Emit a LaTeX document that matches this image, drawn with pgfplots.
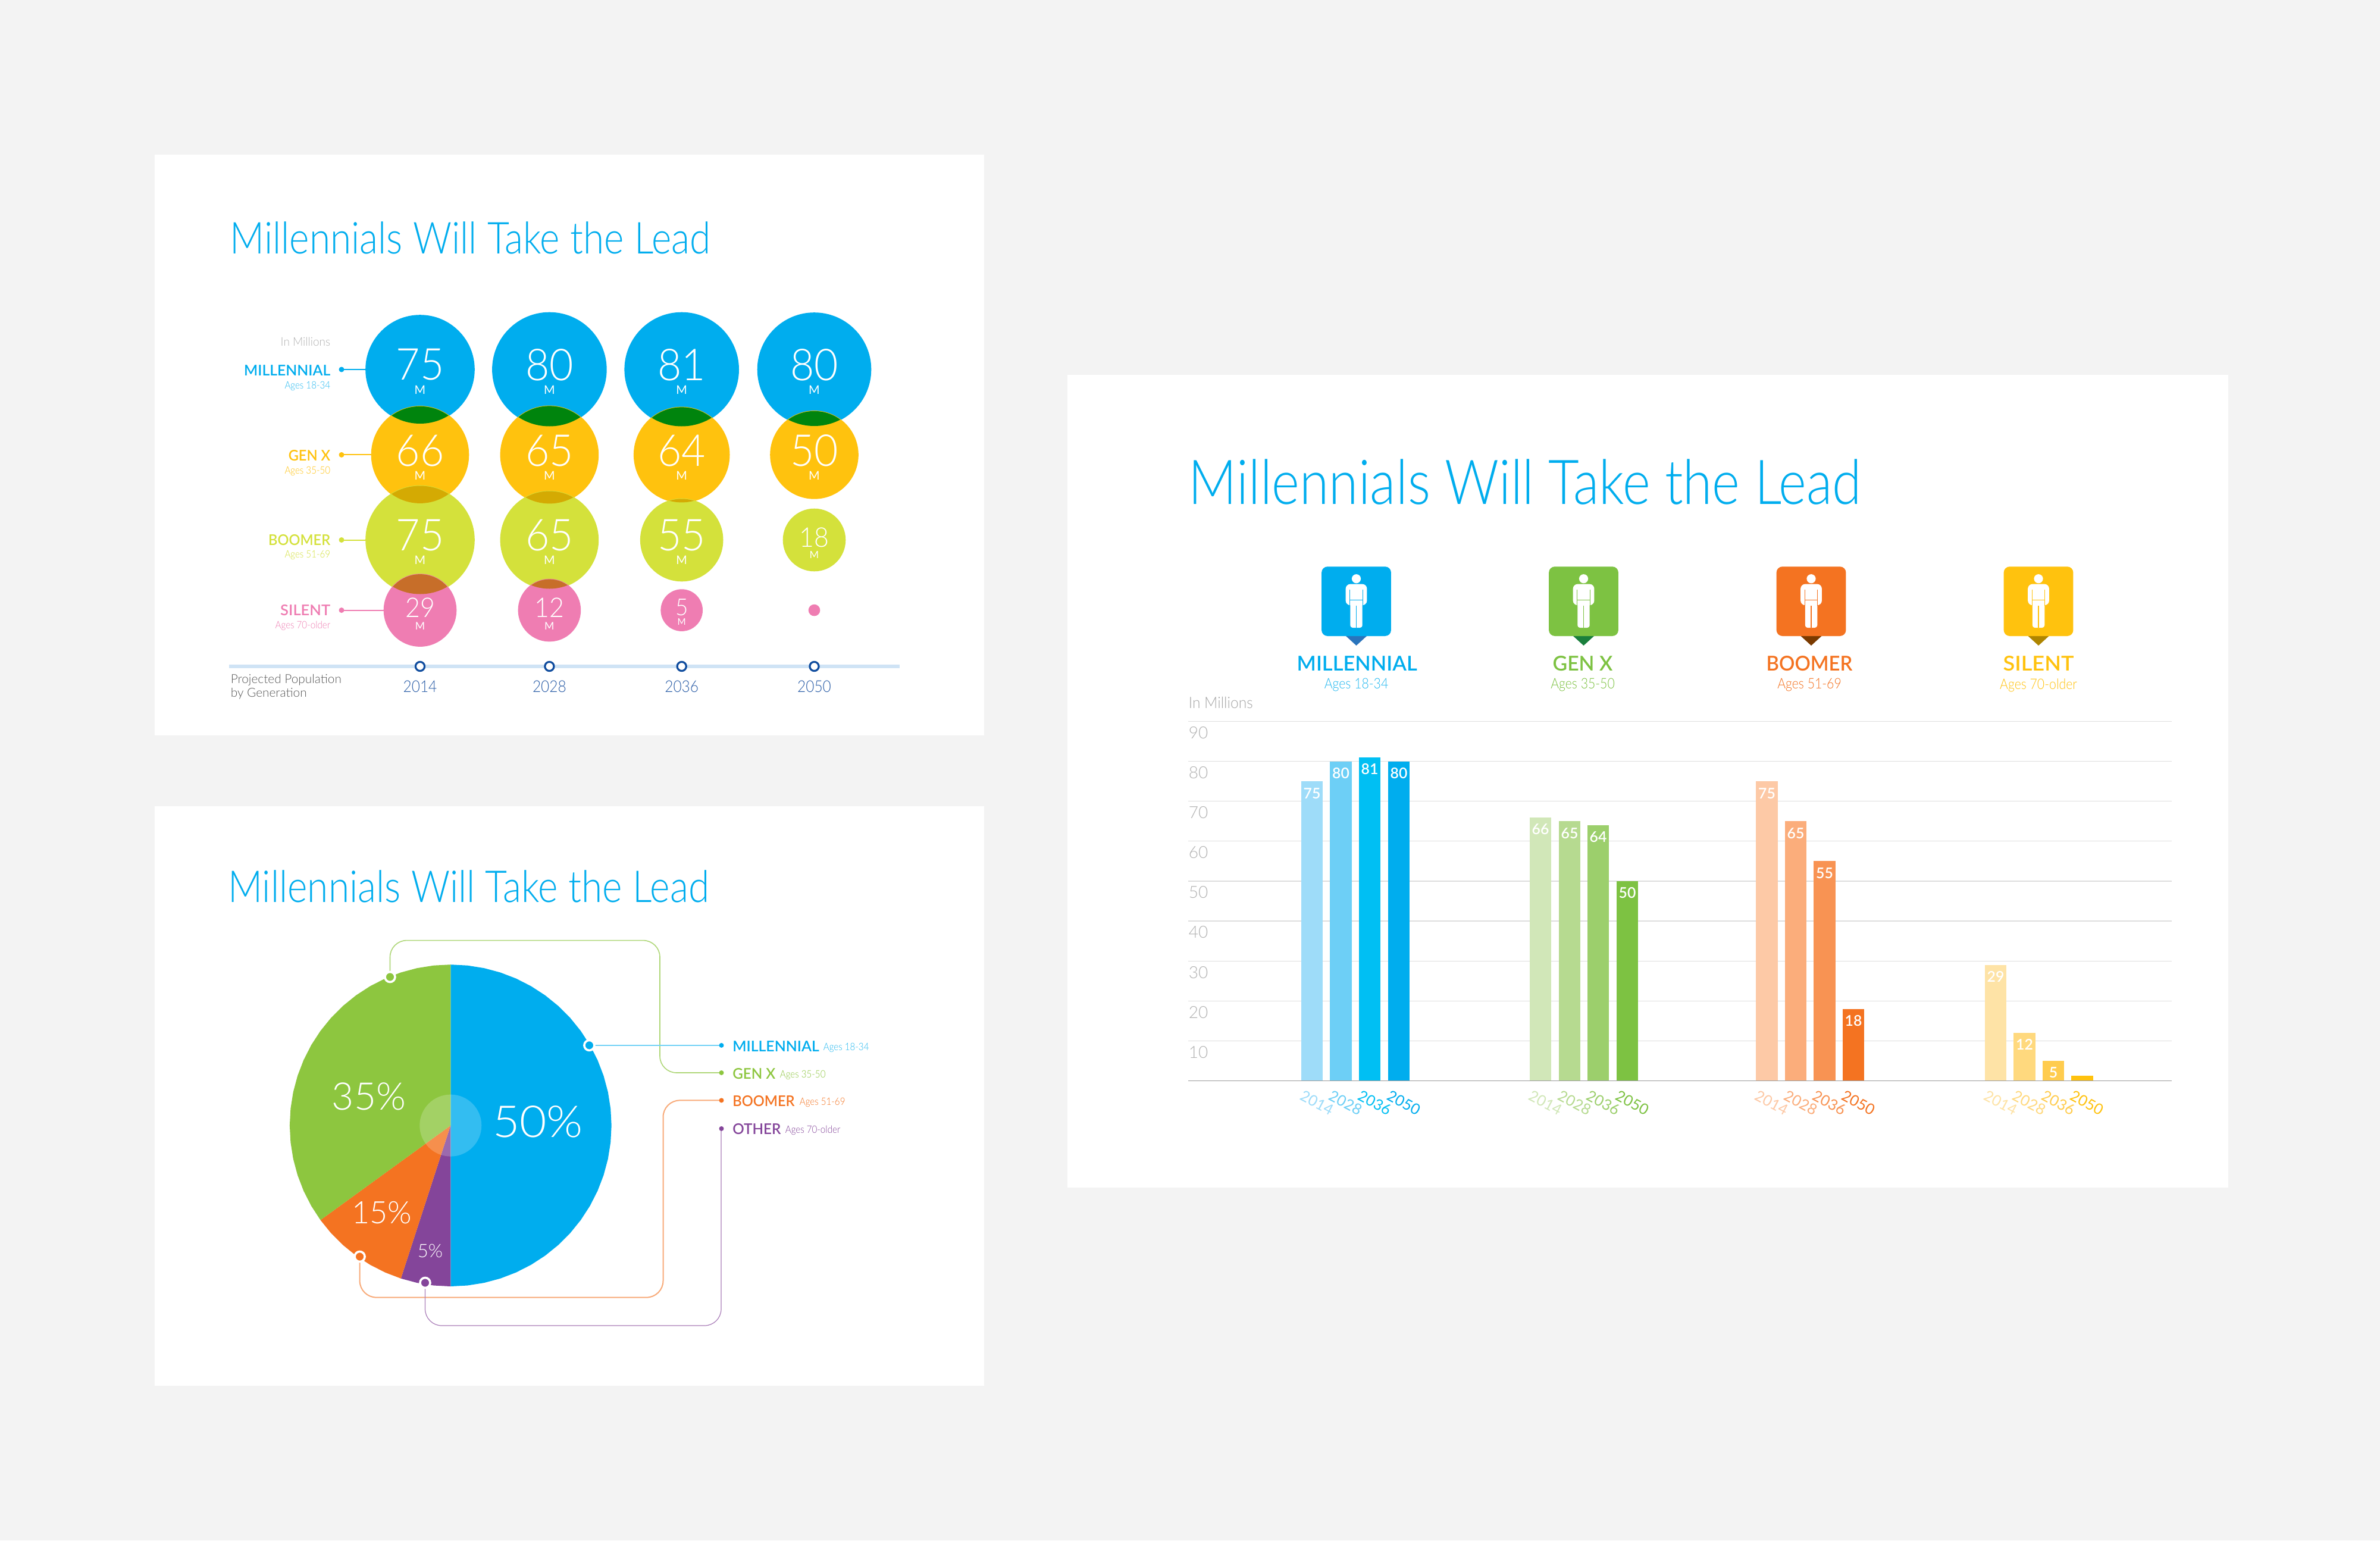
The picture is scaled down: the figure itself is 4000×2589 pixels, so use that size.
\documentclass[border=0pt]{standalone}
\usepackage{pgfplots}
\pgfplotsset{compat=1.18}
\usepackage{fontspec}
\usepackage{graphicx}
\setmainfont{Lato}
\newfontfamily\lt{Lato Light}
\newfontfamily\md{Lato Semibold}
\definecolor{page}{HTML}{F3F3F3}
\definecolor{mb}{HTML}{00ADEE}
\definecolor{my}{HTML}{FFC20E}
\definecolor{ml}{HTML}{D4E13B}
\definecolor{mp}{HTML}{EF7DB2}
\definecolor{lby}{HTML}{00840D}
\definecolor{lyl}{HTML}{D4AA03}
\definecolor{llp}{HTML}{C76E29}
\definecolor{pg}{HTML}{8DC63F}
\definecolor{po}{HTML}{F47321}
\definecolor{pp}{HTML}{84459A}
\definecolor{d1}{HTML}{2A74BC}\definecolor{d2}{HTML}{1A7F3C}\definecolor{d3}{HTML}{7A3A00}\definecolor{d4}{HTML}{AE8500}
\definecolor{b1}{HTML}{9EDCF9}\definecolor{b2}{HTML}{6DCFF6}\definecolor{b3}{HTML}{00BFF3}\definecolor{b4}{HTML}{00ADEE}
\definecolor{g1}{HTML}{D1E7B8}\definecolor{g2}{HTML}{B6DA90}\definecolor{g3}{HTML}{9CCF6C}\definecolor{g4}{HTML}{7DC242}
\definecolor{o1}{HTML}{FDC9A6}\definecolor{o2}{HTML}{FBAD7B}\definecolor{o3}{HTML}{F89353}\definecolor{o4}{HTML}{F47321}
\definecolor{y1}{HTML}{FEE3A6}\definecolor{y2}{HTML}{FFD97E}\definecolor{y3}{HTML}{FFCC4E}\definecolor{y4}{HTML}{FFC20E}
\definecolor{axb}{HTML}{CFE3F5}\definecolor{ring}{HTML}{0F4C9E}\definecolor{yr}{HTML}{2D5FA8}
\newcommand\fs[1]{\fontsize{#1}{#1}\selectfont}
\newcommand\wfit[2]{\resizebox{#1pt}{\height}{#2}}
\newcommand\ag[1]{\scalebox{.88}[1]{\lt\fs{4.3}#1}}
\newcommand\agb[1]{\scalebox{.87}[1]{\lt\fs{6.1}#1}}
\newcommand\hd[1]{\fs{6.2}\md #1}
\newcommand\hb[1]{\fs{8.6}\md #1}
\newcommand\bn[2]{\scalebox{.94}[1]{\lt\fs{#1}#2}}
% bubble data: x y(row) diameter value (px geometry)
\pgfplotstableread{
x y d v
706 499 182 75
923.4 499 191 80
1145.7 499 191 81
1368.5 499 190 80
}\tblM
\pgfplotstableread{
x y d v
706 355.6 163 66
923.4 355.6 164 65
1145.7 355.6 160 64
1368.5 355.6 147 50
}\tblG
\pgfplotstableread{
x y d v
706 212.5 182 75
923.4 212.5 164 65
1145.7 212.5 138 55
1368.5 212.5 104 18
}\tblB
\pgfplotstableread{
x y d v
706 94.4 121 29
923.4 94.4 104 12
1145.7 94.4 69 5
1368.5 94.4 18 1
}\tblS
\newcommand\bub[2]{\addplot[scatter,only marks,mark=*,point meta=\thisrow{v},
  scatter/use mapped color={draw=#1,fill=#1},
  visualization depends on={\thisrow{d}/8 \as \ms},
  scatter/@pre marker code/.append style={/tikz/mark size=\ms,/tikz/line width=0pt}]
  table[x=x,y=y]{#2};}
\newcommand\bb[3]{\addplot[fill=#1,draw=none,nodes near coords] coordinates {(#2,#3)};}
\newcommand\person[2]{%
 \fill[white] (#1,972.7) circle[radius=7.6];
 \fill[white,rounded corners=2pt] (#1-17.9,981.6) rectangle (#1+17.9,1017.3);
 \fill[white,rounded corners=1pt] (#1-10.2,1000) rectangle (#1+10.2,1055);
 \draw[#2,line width=.3pt] (#1-10.7,991.2)--(#1-10.7,1018) (#1+10.7,991.2)--(#1+10.7,1018) (#1,1018)--(#1,1055) (#1-10.7,1008.4)--(#1+10.7,1008.4);
}
\newcommand\icon[3]{%
 \fill[#3] (#1-17.5,1069) -- (#1,1085) -- (#1+17.5,1069) -- cycle;
 \fill[#2,rounded corners=2.5pt] (#1-58.4,952.3) rectangle (#1+58.4,1069);
 \person{#1}{#2}}
\tikzset{t/.style={inner sep=0pt,text=white},
 r/.style={inner sep=0pt,anchor=east},
 l/.style={inner sep=0pt,anchor=west},
 c/.style={inner sep=0pt,anchor=center}}
\begin{document}
\begin{tikzpicture}[x=0.25pt,y=-0.25pt]
\fill[page] (0,0) rectangle (4000,2589);
\fill[white] (260,260) rectangle (1654,1236);
\fill[white] (260,1354.5) rectangle (1654,2329);
\fill[white] (1794,630) rectangle (3745,1996);

% ---------- panel 1: bubbles
\node[l,text=mb] at (386,400) {\wfit{202}{\lt\fs{18.5}Millennials Will Take the Lead}};
\foreach \yy/\xe/\cc in {621/615.5/mb,764.4/624.5/my,907.5/615.5/ml,1025.6/645.5/mp}{
 \draw[\cc,line width=.5pt] (574,\yy)--(\xe,\yy);
 \fill[\cc] (574,\yy) circle[radius=4.5];
}
\begin{axis}[at={(96.25pt,-280pt)},anchor=south west,scale only axis,width=281.75pt,height=160pt,
 xmin=385,xmax=1512,ymin=0,ymax=640,clip=false,
 axis x line*=bottom,axis y line=none,
 x axis line style={draw=axb,line width=1.4pt},
 xtick={706,923.4,1145.7,1368.5},xticklabels={2014,2028,2036,2050},
 major tick length=0pt,
 xticklabel style={anchor=center,yshift=-8.5pt,inner sep=0pt,text=yr,xscale=.9,font=\lt\fs{6.8}},
]
\bub{mb}{\tblM}
\bub{my}{\tblG}
\bub{ml}{\tblB}
\bub{mp}{\tblS}
\addplot[only marks,mark=*,mark size=1.9pt,mark options={fill=white,draw=ring,line width=.8pt}] coordinates {(706,0)(923.4,0)(1145.7,0)(1368.5,0)};
\end{axis}
% overlaps of neighbouring bubbles (multiplied colours)
\foreach \xx/\ya/\ra/\yb/\rb/\cc in {
 706/621/91/764.4/81.5/lby,923.4/621/95.5/764.4/82/lby,1145.7/621/95.5/764.4/80/lby,1368.5/621/95/764.4/73.5/lby,
 706/764.4/81.5/907.5/91/lyl,923.4/764.4/82/907.5/82/lyl,1145.7/764.4/80/907.5/69/lyl,
 706/907.5/91/1025.6/60.5/llp,923.4/907.5/82/1025.6/52/llp}{
 \begin{scope}
 \clip (\xx,\ya) circle[radius=\ra];
 \fill[\cc] (\xx,\yb) circle[radius=\rb];
 \end{scope}
}
% row labels
\node[r,text=black!30] at (556,574) {\scalebox{.95}[1]{\lt\fs{5}In Millions}};
\node[r,text=mb] at (556,622.5) {\wfit{36.25}{\hd{MILLENNIAL}}};
\node[r,text=mb!85] at (556,649) {\ag{Ages 18-34}};
\node[r,text=my] at (556,765.6) {\wfit{17.6}{\hd{GEN X}}};
\node[r,text=my] at (556,792) {\ag{Ages 35-50}};
\node[r,text=ml] at (556,907.5) {\wfit{26}{\hd{BOOMER}}};
\node[r,text=ml] at (556,933) {\ag{Ages 51-69}};
\node[r,text=mp] at (556,1025.6) {\wfit{21}{\hd{SILENT}}};
\node[r,text=mp] at (556,1052) {\ag{Ages 70-older}};
\node[l,text=black!65,align=left,font=\lt\fs{5.2},text height=4pt] at (387,1165) {Projected Population\\[.5pt]by Generation};
% bubble numbers
\foreach \xx/\yy/\vv in {706/613/75,923.4/613/80,1145.7/613/81,1368.5/613/80,
 706/757.6/66,923.4/757.6/65,1145.7/757.6/64,1368.5/757.6/50,
 706/899.5/75,923.4/899.5/65,1145.7/899.5/55}{
 \node[t] at (\xx,\yy) {\bn{18.5}{\vv}};
 \pgfmathsetmacro\my{\yy+42}
 \node[t] at (\xx,\my) {\fs{5}M};
}
\node[t] at (1368.5,903.5) {\bn{11.4}{18}};
\node[t] at (1368.5,932.5) {\fs{4.2}M};
\node[t] at (706,1021.6) {\bn{11.4}{29}};
\node[t] at (706,1052) {\fs{4.4}M};
\node[t] at (923.4,1021.6) {\bn{11.4}{12}};
\node[t] at (923.4,1052) {\fs{4.4}M};
\node[t] at (1145.7,1021) {\bn{9.8}{5}};
\node[t] at (1145.7,1045) {\fs{3.8}M};

% ---------- panel 2: pie
\node[l,text=mb] at (382.5,1490) {\wfit{202.2}{\lt\fs{18.5}Millennials Will Take the Lead}};
\draw[pg!70,line width=.4pt,rounded corners=7pt] (655.5,1642)--(655.5,1580.6)--(1109,1580.6)--(1109,1803)--(1212.7,1803);
\draw[mb!55,line width=.6pt] (990.4,1756.9)--(1212.7,1756.9);
\draw[po!60,line width=.5pt,rounded corners=7pt] (604.6,2112)--(604.6,2180.6)--(1114.5,2180.6)--(1114.5,1849.4)--(1212.7,1849.4);
\draw[pp!70,line width=.3pt,rounded corners=7pt] (714.5,2156)--(714.5,2228)--(1212,2228)--(1212,1896.9);
\begin{axis}[at={(121.725pt,-540.5pt)},anchor=south west,scale only axis,width=135.2pt,height=135.2pt,
 xmin=-1,xmax=1,ymin=-1,ymax=1,hide axis,clip=false]
% Millennial 50% (clockwise from the top)
\addplot[fill=mb,draw=none] coordinates {(0,0)(0,1)(.10453,.99452)(.20791,.97815)(.30902,.95106)(.40674,.91355)(.5,.86603)(.58779,.80902)(.66913,.74314)(.74314,.66913)(.80902,.58779)(.86603,.5)(.91355,.40674)(.95106,.30902)(.97815,.20791)(.99452,.10453)(1,0)(.99452,-.10453)(.97815,-.20791)(.95106,-.30902)(.91355,-.40674)(.86603,-.5)(.80902,-.58779)(.74314,-.66913)(.66913,-.74314)(.58779,-.80902)(.5,-.86603)(.40674,-.91355)(.30902,-.95106)(.20791,-.97815)(.10453,-.99452)(0,-1)} -- cycle;
% Other 5%
\addplot[fill=pp,draw=none] coordinates {(0,0)(0,-1)(-.10453,-.99452)(-.20791,-.97815)(-.30902,-.95106)} -- cycle;
% Boomer, drawn as 36 degrees
\addplot[fill=po,draw=none] coordinates {(0,0)(-.30902,-.95106)(-.40674,-.91355)(-.5,-.86603)(-.58779,-.80902)(-.66913,-.74314)(-.74314,-.66913)(-.80902,-.58779)} -- cycle;
% Gen X 35%
\addplot[fill=pg,draw=none] coordinates {(0,0)(-.80902,-.58779)(-.86603,-.5)(-.91355,-.40674)(-.95106,-.30902)(-.97815,-.20791)(-.99452,-.10453)(-1,0)(-.99452,.10453)(-.97815,.20791)(-.95106,.30902)(-.91355,.40674)(-.86603,.5)(-.80902,.58779)(-.74314,.66913)(-.66913,.74314)(-.58779,.80902)(-.5,.86603)(-.40674,.91355)(-.30902,.95106)(-.20791,.97815)(-.10453,.99452)(0,1)} -- cycle;
\addplot[only marks,mark=*,mark size=13pt,mark options={draw=white,draw opacity=0,fill=white,fill opacity=.2,line width=0pt}] coordinates {(0,0)};
\end{axis}
\foreach \xx/\yy/\cc in {655.5/1642/pg,990.4/1756.9/mb,604.6/2112/po,714.5/2156/pp}{
 \fill[\cc,draw=white,line width=.9pt] (\xx,\yy) circle[radius=8.5];
}
\foreach \yy/\cc in {1756.9/mb,1803/pg,1849.4/po,1896.9/pp}{
 \fill[\cc] (1212.5,\yy) circle[radius=4];
}
\node[t] at (904,1885) {\wfit{38}{\lt\fs{18.5}50\%}};
\node[t] at (620,1843) {\lt\fs{16}35\%};
\node[t] at (642,2038) {\lt\fs{13}15\%};
\node[t] at (723,2102) {\lt\fs{7.8}5\%};
\node[l,text=mb] at (1230.5,1758.5) {\wfit{36.4}{\hd{MILLENNIAL}}};
\node[l,text=mb!85] at (1383,1760.5) {\ag{Ages 18-34}};
\node[l,text=pg] at (1230.5,1804.5) {\wfit{18}{\hd{GEN X}}};
\node[l,text=pg] at (1310,1806.5) {\ag{Ages 35-50}};
\node[l,text=po] at (1230.5,1851) {\wfit{26.1}{\hd{BOOMER}}};
\node[l,text=po] at (1343,1852.5) {\ag{Ages 51-69}};
\node[l,text=pp] at (1230.5,1898) {\wfit{20.3}{\hd{OTHER}}};
\node[l,text=pp] at (1319,1900) {\ag{Ages 70-older}};

% ---------- panel 3: bars
\node[l,text=mb] at (1997,810.5) {\wfit{282.75}{\lt\fs{26}Millennials Will Take the Lead}};
\icon{2279.5}{b4}{d1}
\icon{2661.5}{g4}{d2}
\icon{3044}{o4}{d3}
\icon{3426}{y4}{d4}
\node[c,text=b4] at (2280.7,1115) {\wfit{50.5}{\hb{MILLENNIAL}}};
\node[c,text=b4!85] at (2279.5,1151.5) {\agb{Ages 18-34}};
\node[c,text=g4] at (2660,1115) {\wfit{25.2}{\hb{GEN X}}};
\node[c,text=g4] at (2660,1151.5) {\agb{Ages 35-50}};
\node[c,text=o4] at (3041,1115) {\wfit{36.2}{\hb{BOOMER}}};
\node[c,text=o4] at (3041,1151.5) {\agb{Ages 51-69}};
\node[c,text=y4] at (3426,1115) {\wfit{29.7}{\hb{SILENT}}};
\node[c,text=y4] at (3426,1151.5) {\agb{Ages 70-older}};
\node[l,text=black!35] at (1997,1181) {\scalebox{.93}[1]{\lt\fs{6.6}In Millions}};
\begin{axis}[at={(499.25pt,-454.1pt)},anchor=south west,scale only axis,width=413.25pt,height=150.975pt,
 xmin=1997,xmax=3650,ymin=0,ymax=90,clip=false,
 ybar,bar width=9.125pt,bar shift=0pt,
 axis x line*=bottom,axis y line*=left,
 x axis line style={draw=black!40,line width=.45pt},y axis line style={draw=none},
 major tick length=0pt,
 ymajorgrids,grid style={draw=black!13,line width=.28pt},
 ytick={10,20,...,90},
 /pgf/number format/assume math mode=true,
 yticklabel style={anchor=west,inner sep=0pt,yshift=-4.75pt,text=black!30,font=\lt\fs{7}},
 xtick={2205,2253.5,2302,2351,2589,2638,2686,2735,2969.5,3018,3066.5,3115,3354,3402.5,3451,3499.5},
 xticklabels={\textcolor{b1}{2014},\textcolor{b2}{2028},\textcolor{b3}{2036},\textcolor{b4}{2050},
  \textcolor{g1}{2014},\textcolor{g2}{2028},\textcolor{g3}{2036},\textcolor{g4}{2050},
  \textcolor{o1}{2014},\textcolor{o2}{2028},\textcolor{o3}{2036},\textcolor{o4}{2050},
  \textcolor{y1}{2014},\textcolor{y2}{2028},\textcolor{y3}{2036},\textcolor{y4}{2050}},
 xticklabel style={anchor=center,inner sep=0pt,xshift=2.1pt,yshift=-9.2pt,rotate=-28,font=\fs{6.3}},
 every node near coord/.style={anchor=center,yshift=-5pt,text=white,font=\md\fs{6.2},inner sep=0pt},
]
\bb{b1}{2205}{75}\bb{b2}{2253.5}{80}\bb{b3}{2302}{81}\bb{b4}{2351}{80}
\bb{g1}{2589}{66}\bb{g2}{2638}{65}\bb{g3}{2686}{64}\bb{g4}{2735}{50}
\bb{o1}{2969.5}{75}\bb{o2}{3018}{65}\bb{o3}{3066.5}{55}\bb{o4}{3115}{18}
\bb{y1}{3354}{29}\bb{y2}{3402.5}{12}\bb{y3}{3451}{5}
\addplot[fill=y4,draw=none] coordinates {(3499.5,1.2)};
\end{axis}
\end{tikzpicture}
\end{document}
